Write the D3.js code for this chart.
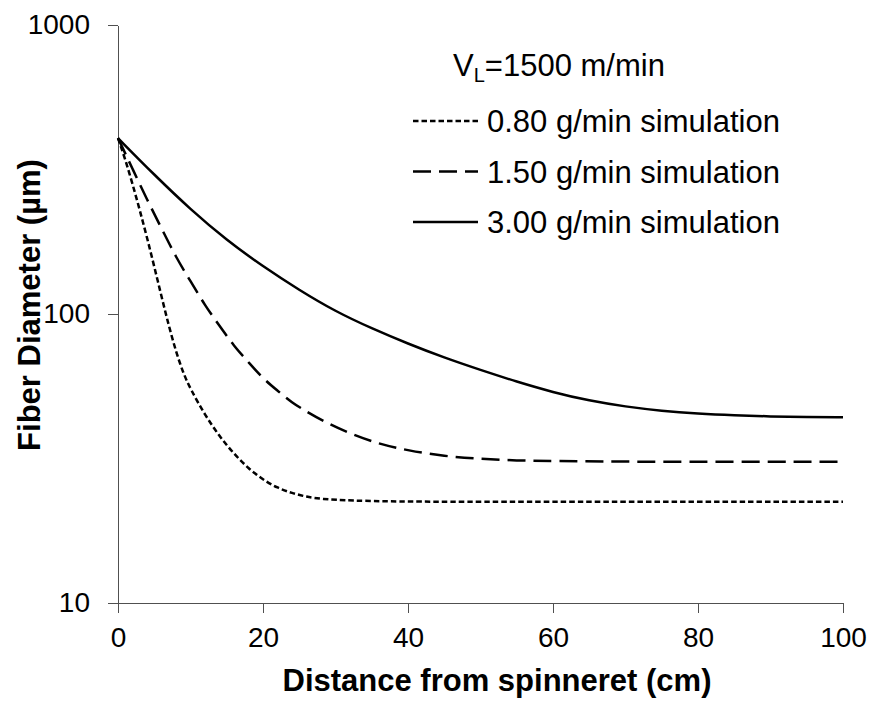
<!DOCTYPE html>
<html lang="en">
<head>
    <meta charset="UTF-8">
    <title>Fiber Diameter vs Distance</title>
    <style>
        body {
            margin: 0;
            background: #fff;
            font-family: Arial, "Liberation Sans", Helvetica, sans-serif;
        }

        .axis path,
        .axis line {
            stroke: #505050;
            stroke-width: 1.4px;
            shape-rendering: crispEdges;
        }

        .axis text {
            font-family: Arial, "Liberation Sans", sans-serif;
            font-size: 28px;
            fill: #000;
        }

        .line {
            fill: none;
            stroke: #000;
            stroke-width: 2.5px;
        }

        .title {
            font-family: Arial, "Liberation Sans", sans-serif;
            font-weight: bold;
            font-size: 31px;
            fill: #000;
        }

        .legend text {
            font-family: Arial, "Liberation Sans", sans-serif;
            font-size: 31px;
            fill: #000;
        }
    </style>
</head>

<body>
    <svg id="chart" width="873" height="704"></svg>
    <script src="https://d3js.org/d3.v7.min.js"></script>
    <script>

        // distance from spinneret (cm) and fiber diameter (um)
        var xDotted = [0, 1, 2, 3, 4, 5, 6, 7, 8, 9, 10, 12, 14, 16, 18, 20, 22, 24, 26, 28, 32, 40, 60, 100];
        var yDotted = [406, 343, 282, 229, 184, 146, 115, 91.2, 74.1, 62.4, 55.0, 44.7, 37.7, 32.8, 29.2, 26.7, 25.0, 24.0, 23.3, 22.9, 22.6, 22.4, 22.4, 22.4];

        var xDashed = [0, 2, 4, 6, 8, 10, 12, 14, 16, 18, 20, 22, 24, 26, 28, 32, 36, 40, 45, 50, 55, 60, 70, 100];
        var yDashed = [406, 318, 249, 198, 157, 130, 107, 91.0, 77.4, 68.1, 59.8, 54.3, 49.3, 46.0, 43.0, 38.5, 35.5, 33.7, 32.2, 31.5, 31.1, 31.0, 30.8, 30.8];

        var xSolid = [0, 5, 10, 15, 20, 25, 30, 35, 40, 45, 50, 55, 60, 65, 70, 75, 80, 85, 90, 95, 100];
        var ySolid = [406, 303, 230, 180, 146, 121, 102, 89.1, 78.9, 70.6, 64.0, 58.3, 53.6, 50.1, 47.8, 46.2, 45.2, 44.6, 44.2, 44.0, 43.9];

        var seriesNames = ["0.80 g/min simulation", "1.50 g/min simulation", "3.00 g/min simulation"];
        var seriesDash = ["5.5,3", "18,8", null];

        var xTicks = [0, 20, 40, 60, 80, 100];
        var yTicks = [10, 100, 1000];

        var svg = d3.select("#chart");

        var x = d3.scaleLinear().domain([0, 100]).range([118, 843]);
        var y = d3.scaleLog().domain([10, 1000]).range([603, 25]);

        var xAxis = d3.axisBottom(x)
            .tickValues(xTicks)
            .tickSize(10)
            .tickSizeOuter(0)
            .tickPadding(14)
            .tickFormat(d3.format("d"));

        var yAxis = d3.axisLeft(y)
            .tickValues(yTicks)
            .tickSize(10)
            .tickSizeOuter(0)
            .tickPadding(18)
            .tickFormat(d3.format("d"));

        svg.append("g")
            .attr("class", "axis axis--x")
            .attr("transform", "translate(0," + y(10) + ")")
            .call(xAxis);

        svg.append("g")
            .attr("class", "axis axis--y")
            .attr("transform", "translate(" + x(0) + ",0)")
            .call(yAxis);

        var line = d3.line()
            .x(function (d) { return x(d[0]); })
            .y(function (d) { return y(d[1]); })
            .curve(d3.curveBasis);

        var series = [d3.zip(xDotted, yDotted), d3.zip(xDashed, yDashed), d3.zip(xSolid, ySolid)];

        series.forEach(function (pts, i) {
            svg.append("path")
                .datum(pts)
                .attr("class", "line")
                .attr("stroke-dasharray", seriesDash[i])
                .attr("d", line);
        });

        // legend
        var legend = svg.append("g").attr("class", "legend");

        var head = legend.append("text")
            .attr("x", 453)
            .attr("y", 76);
        head.append("tspan").text("V");
        head.append("tspan").attr("font-size", "20px").attr("dy", 6).text("L");
        head.append("tspan").attr("dy", -6).text("=1500 m/min");

        seriesNames.forEach(function (name, i) {
            var ly = 121 + i * 50.5;
            legend.append("line")
                .attr("x1", 413)
                .attr("x2", 478)
                .attr("y1", ly)
                .attr("y2", ly)
                .attr("class", "line")
                .attr("stroke-dasharray", seriesDash[i]);
            legend.append("text")
                .attr("x", 487)
                .attr("y", ly + 11)
                .text(name);
        });

        // axis titles
        svg.append("text")
            .attr("class", "title")
            .attr("x", 497)
            .attr("y", 691)
            .attr("text-anchor", "middle")
            .text("Distance from spinneret (cm)");

        svg.append("text")
            .attr("class", "title")
            .attr("transform", "translate(40,305) rotate(-90)")
            .attr("text-anchor", "middle")
            .text("Fiber Diameter (µm)");

    </script>
</body>

</html>
